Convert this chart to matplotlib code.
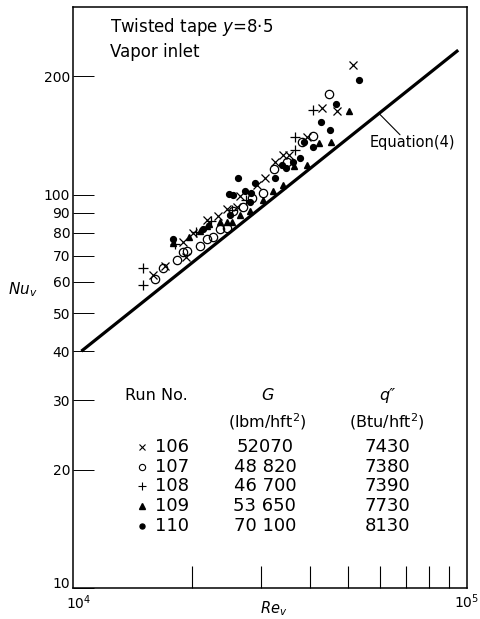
import numpy as np
import matplotlib
matplotlib.use("Agg")
import matplotlib.pyplot as plt
import matplotlib.transforms as mtransforms
from matplotlib.ticker import FixedLocator, NullFormatter

plt.rcParams['font.family'] = ['DejaVu Sans']
plt.rcParams['mathtext.fontset'] = 'dejavusans'

# run 106 (x)
re_106 = [51360, 42850, 46770, 39260, 35320, 34120, 32560, 30710, 29310, 26540,
          26080, 24590, 23340, 21890, 20170, 19020, 19360, 15960, 17100]
nu_106 = [214, 166, 163, 140, 126, 126, 121, 110, 106, 99,
          93, 92, 88, 86, 80, 76, 69.5, 62.6, 66]
# run 107 (o)
re_107 = [44650, 40650, 38110, 34930, 32370, 30350, 28470, 27010, 25470, 24590,
          23610, 22660, 21890, 21010, 19470, 19020, 18360, 16920, 16150]
nu_107 = [180, 141, 136, 121, 116, 101, 98, 93, 91, 82.4,
          82, 78, 77, 74, 72, 71.6, 68.3, 65, 61]
# run 108 (+)
re_108 = [40650, 36600, 36600, 25320, 22400, 20530, 15050, 15050, 27500, 18200]
nu_108 = [164, 140, 130, 91.5, 85.5, 80.5, 65, 59, 97, 75]
# run 109 (triangles)
re_109 = [50170, 45180, 42110, 39260, 36390, 34120, 32180, 30350, 28140, 26540,
          25320, 24590, 23610, 22150, 21890, 21010, 19700, 17940]
nu_109 = [163, 136, 135, 119, 118, 106, 102, 97, 91, 89,
          85.4, 85.4, 85, 84.4, 83, 81, 78, 75.5]
# run 110 (dots)
re_110 = [53190, 46510, 42600, 44910, 40650, 38570, 37680, 36180, 34720, 33920,
          32560, 28970, 26230, 24880, 25470, 27330, 28300, 28140, 25030, 21380, 17940]
nu_110 = [196, 170, 153, 146, 132, 136, 124, 121, 117, 119,
          110.5, 107, 110.5, 100.6, 100, 102, 101, 96, 89, 82, 77]

# Equation (4) end points
eq_re = [10500, 95000]
eq_nu = [40, 233]

runs = ['106', '107', '108', '109', '110']
mass_flux = ['52070', '48 820', '46 700', '53 650', '70 100']
heat_flux = ['7430', '7380', '7390', '7730', '8130']

fig = plt.figure(figsize=(4.81, 6.19), dpi=100)
ax = fig.add_axes([0.1518, 0.0501, 0.8191, 0.9386])
ax.set_xscale('log')
ax.set_yscale('log')
ax.set_xlim(1e4, 1e5)
ax.set_ylim(10, 300)

ax.plot(eq_re, eq_nu, color='black', lw=2.3, solid_capstyle='butt')

ax.plot(re_106, nu_106, ls='none', marker='x', ms=5.5, mew=0.9, color='black')
ax.plot(re_107, nu_107, ls='none', marker='o', ms=6, mew=0.9, mfc='none', mec='black')
ax.plot(re_108, nu_108, ls='none', marker='+', ms=7, mew=0.9, color='black')
ax.plot(re_109, nu_109, ls='none', marker='^', ms=5, color='black')
ax.plot(re_110, nu_110, ls='none', marker='o', ms=4.2, color='black')

# leader and label for the correlation line
ax.annotate('', xy=(60100, 160), xytext=(67600, 142),
            arrowprops=dict(arrowstyle='-', lw=0.8, color='black', shrinkA=0, shrinkB=0))
ax.text(56750, 135.6, 'Equation(4)', fontsize=10.5, ha='left', va='center')

ax.text(0.094, 0.966, 'Twisted tape $y$=8·5', transform=ax.transAxes,
        fontsize=12, ha='left', va='center')
ax.text(0.094, 0.9225, 'Vapor inlet', transform=ax.transAxes,
        fontsize=12, ha='left', va='center')

# run table
ax.text(0.132, 0.3305, 'Run No.', transform=ax.transAxes, fontsize=11.5,
        ha='left', va='center')
ax.text(0.4924, 0.3305, 'G', transform=ax.transAxes, fontsize=11.5,
        style='italic', ha='center', va='center')
ax.text(0.797, 0.3305, 'q\u2033', transform=ax.transAxes, fontsize=11.5,
        style='italic', ha='center', va='center')
ax.text(0.4924, 0.2857, '(lbm/hft$^2$)', transform=ax.transAxes, fontsize=11.5,
        ha='center', va='center')
ax.text(0.797, 0.2857, '(Btu/hft$^2$)', transform=ax.transAxes, fontsize=11.5,
        ha='center', va='center')

table_marks = [dict(marker='x', ms=4, mew=0.8, color='black'),
               dict(marker='o', ms=4.5, mew=0.8, mfc='none', mec='black'),
               dict(marker='+', ms=5.5, mew=0.8, color='black'),
               dict(marker='^', ms=4.5, color='black'),
               dict(marker='o', ms=3.6, color='black')]
for i, run in enumerate(runs):
    yy = 0.2427 - i * 0.034
    ax.plot([0.175], [yy], transform=ax.transAxes, ls='none', **table_marks[i])
    ax.text(0.208, yy, run, transform=ax.transAxes, fontsize=13, ha='left', va='center')
    ax.text(0.487, yy, mass_flux[i], transform=ax.transAxes, fontsize=13, ha='center', va='center')
    ax.text(0.797, yy, heat_flux[i], transform=ax.transAxes, fontsize=13, ha='center', va='center')

# axis ticks: inward, no tick on top or right
yt = [10, 20, 30, 40, 50, 60, 70, 80, 90, 100, 200]
ax.yaxis.set_major_locator(FixedLocator(yt))
ax.yaxis.set_minor_locator(FixedLocator([]))
ax.set_yticklabels([str(v) for v in yt])
ax.tick_params(axis='y', which='major', direction='in', length=15, width=0.7,
               labelsize=10, pad=2, right=False)

ax.xaxis.set_major_locator(FixedLocator([1e4, 1e5]))
ax.set_xticklabels(['$10^4$', '$10^5$'])
ax.xaxis.set_minor_locator(FixedLocator([2e4, 3e4, 4e4, 5e4, 6e4, 7e4, 8e4, 9e4]))
ax.xaxis.set_minor_formatter(NullFormatter())
ax.tick_params(axis='x', which='major', length=0, labelsize=10, pad=3, top=False)
ax.tick_params(axis='x', which='minor', direction='in', length=16, width=0.8, top=False)

# nudge the corner labels so "10" and "10^4" sit apart
fig.canvas.draw()
ylab0 = ax.get_yticklabels()[0]
ylab0.set_transform(ylab0.get_transform() +
                    mtransforms.ScaledTranslation(0, 4 / 72, fig.dpi_scale_trans))
xlab0 = ax.get_xticklabels()[0]
xlab0.set_transform(xlab0.get_transform() +
                    mtransforms.ScaledTranslation(4 / 72, -1 / 72, fig.dpi_scale_trans))

for s in ax.spines.values():
    s.set_linewidth(1.1)

ax.text(0.51, -0.036, '$Re_v$', transform=ax.transAxes, fontsize=10.5,
        ha='center', va='center')
ax.text(-0.127, 0.513, '$Nu_v$', transform=ax.transAxes, fontsize=11,
        ha='center', va='center')

fig.savefig('out.png', dpi=100)
